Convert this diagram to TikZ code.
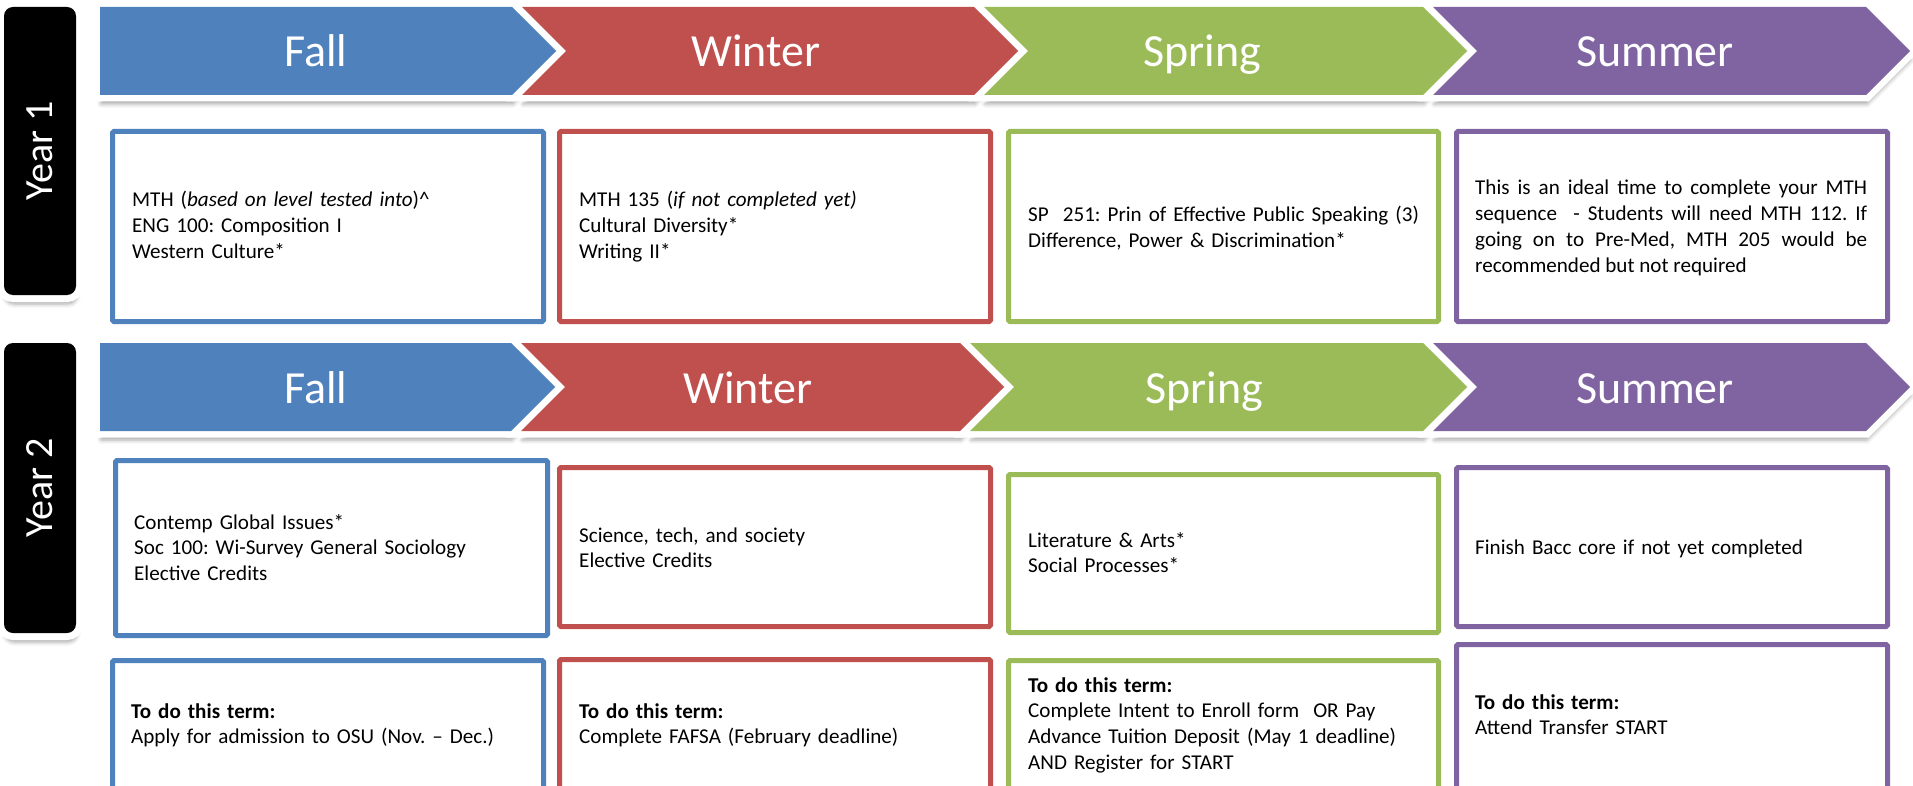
\documentclass[tikz,border=0pt]{standalone}
\usepackage{fontspec}
\setmainfont{Carlito}
\usetikzlibrary{shadows.blur}
\frenchspacing
\definecolor{cblue}{HTML}{4F81BD}
\definecolor{cred}{HTML}{C0504D}
\definecolor{cgreen}{HTML}{9BBB59}
\definecolor{cpurple}{HTML}{8064A2}
\newcommand{\homep}[3]{(#1,#3) -- (#2,#3) -- ({#2+44},{#3+44}) -- (#2,{#3+88}) -- (#1,{#3+88}) -- cycle}
\newcommand{\chevp}[3]{(#1,#3) -- (#2,#3) -- ({#2+44},{#3+44}) -- (#2,{#3+88}) -- (#1,{#3+88}) -- ({#1+44},{#3+44}) -- cycle}
\tikzset{
  chevback/.style={fill=white, draw=white, line width=13pt, line join=miter,
    blur shadow={shadow xshift=1pt, shadow yshift=-9pt, shadow blur radius=4pt, shadow opacity=35}},
  yearback/.style={fill=white, draw=white, line width=14pt, rounded corners=9pt,
    blur shadow={shadow xshift=1pt, shadow yshift=-9pt, shadow blur radius=4pt, shadow opacity=35}},
  yearfill/.style={fill=black, rounded corners=9pt},
  boxsty/.style={draw=#1, line width=5pt, fill=white, rounded corners=1.5pt},
  seasontext/.style={text=white, font=\fontsize{46}{50}\selectfont, anchor=base, inner sep=0pt},
  yeartext/.style={text=white, font=\fontsize{40}{44}\selectfont, rotate=90, inner sep=0pt},
  bodytext/.style={anchor=base west, inner sep=0pt, text width=410pt, align=left,
    font=\fontsize{21.1}{25.8}\selectfont\frenchspacing},
}
\begin{document}
\begin{tikzpicture}[x=1pt,y=-1pt]
\useasboundingbox (0,0) rectangle (1913,786);
\clip (0,0) rectangle (1913,786);

% year tabs
\path[yearback] (4,7) rectangle (76,295);
\path[yearback] (4,343) rectangle (76,633);
\path[yearfill] (4,7) rectangle (76,295);
\path[yearfill] (4,343) rectangle (76,633);

% chevron backs
\path[chevback] \homep{100}{512}{7};
\path[chevback] \chevp{522}{974}{7};
\path[chevback] \chevp{984}{1423}{7};
\path[chevback] \chevp{1433}{1866}{7};
\path[chevback] \homep{100}{511}{343};
\path[chevback] \chevp{521}{960}{343};
\path[chevback] \chevp{970}{1423}{343};
\path[chevback] \chevp{1433}{1866}{343};

% chevron fills
\fill[cblue]   \homep{100}{512}{7};
\fill[cred]    \chevp{522}{974}{7};
\fill[cgreen]  \chevp{984}{1423}{7};
\fill[cpurple] \chevp{1433}{1866}{7};
\fill[cblue]   \homep{100}{511}{343};
\fill[cred]    \chevp{521}{960}{343};
\fill[cgreen]  \chevp{970}{1423}{343};
\fill[cpurple] \chevp{1433}{1866}{343};

% labels
\node[yeartext] (year1) at (40,151) {Year 1};
\node[yeartext] (year2) at (40,488) {Year 2};

\node[seasontext] (fall1)   at (316,67) {Fall};
\node[seasontext] (winter1) at (756,67) {Winter};
\node[seasontext] (spring1) at (1202,67) {Spring};
\node[seasontext] (summer1) at (1655,67) {Summer};
\node[seasontext] (fall2)   at (316,403) {Fall};
\node[seasontext] (winter2) at (748,403) {Winter};
\node[seasontext] (spring2) at (1204,403) {Spring};
\node[seasontext] (summer2) at (1655,403) {Summer};

% boxes row 1
\path[boxsty=cblue]   (112.5,131.5) rectangle (543.5,321.5);
\path[boxsty=cred]    (559.5,131.5) rectangle (990.5,321.5);
\path[boxsty=cgreen]  (1008.5,131.5) rectangle (1438.5,321.5);
\path[boxsty=cpurple] (1456.5,131.5) rectangle (1887.5,321.5);
% boxes row 2
\path[boxsty=cblue]   (115.5,460.5) rectangle (547.5,635.5);
\path[boxsty=cred]    (559.5,467.5) rectangle (990.5,626.5);
\path[boxsty=cgreen]  (1008.5,474.5) rectangle (1438.5,632.5);
\path[boxsty=cpurple] (1456.5,467.5) rectangle (1887.5,626.5);
% boxes row 3
\path[boxsty=cblue]   (112.5,660.5) rectangle (543.5,800);
\path[boxsty=cred]    (559.5,659.5) rectangle (990.5,800);
\path[boxsty=cgreen]  (1008.5,660.5) rectangle (1438.5,800);
\path[boxsty=cpurple] (1456.5,644.5) rectangle (1887.5,800);

% texts row 1
\node[bodytext] (tf1) at (132,207) {MTH (\textit{based on level tested into})\textasciicircum\\ENG 100: Composition I\\Western Culture*};
\node[bodytext] (tw1) at (579,207) {MTH 135 (\textit{if not completed yet)}\\Cultural Diversity*\\Writing II*};
\node[bodytext] (ts1) at (1028,222) {SP\ \ 251: Prin of Effective Public Speaking (3)\\Difference, Power \& Discrimination*};
\node[bodytext, text width=392pt, align=justify] (tu1) at (1475,195) {This is an ideal time to complete your MTH\linebreak sequence\ \ - Students will need MTH 112. If\linebreak going on to Pre-Med, MTH 205 would be\linebreak recommended but not required};
% texts row 2
\node[bodytext] (tf2) at (134,529) {Contemp Global Issues*\\Soc 100: Wi-Survey General Sociology\\Elective Credits};
\node[bodytext] (tw2) at (579,542) {Science, tech, and society\\Elective Credits};
\node[bodytext] (ts2) at (1028,547) {Literature \& Arts*\\Social Processes*};
\node[bodytext] (tu2) at (1475,554) {Finish Bacc core if not yet completed};
% texts row 3
\node[bodytext] (tf3) at (131,718) {\textbf{To do this term:}\\Apply for admission to OSU (Nov. – Dec.)};
\node[bodytext] (tw3) at (579,718) {\textbf{To do this term:}\\Complete FAFSA (February deadline)};
\node[bodytext] (ts3) at (1028,692) {\textbf{To do this term:}\\Complete Intent to Enroll form\ \ OR Pay\\Advance Tuition Deposit (May 1 deadline)\\AND Register for START};
\node[bodytext] (tu3) at (1475,709) {\textbf{To do this term:}\\Attend Transfer START};
\end{tikzpicture}
\end{document}
